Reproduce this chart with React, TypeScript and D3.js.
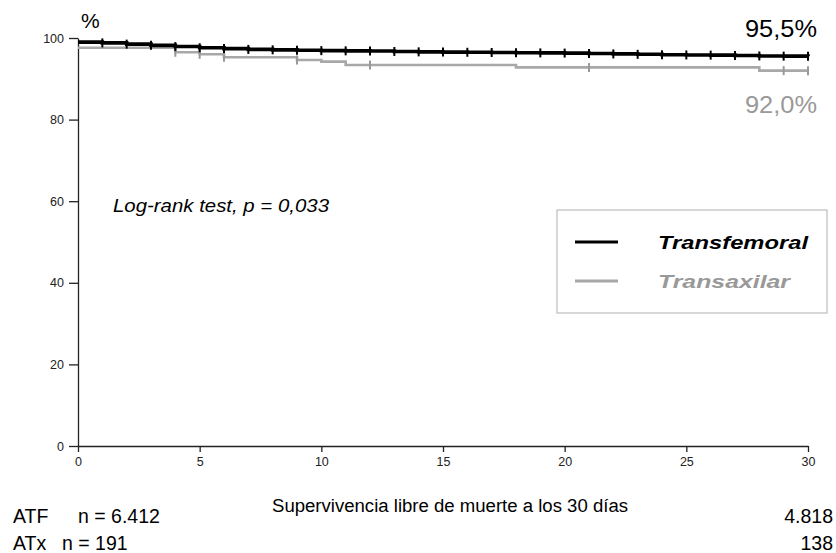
import React, { useEffect, useRef } from "react";
import * as d3 from "d3";

// survival (%), day 0..30
const femoralDays = d3.range(0, 31);
const femoralSurv = [
  99.0, 98.8, 98.5, 98.2, 97.9, 97.6, 97.4, 97.2, 97.1, 97.0, 96.9, 96.85, 96.8, 96.7, 96.6, 96.55,
  96.5, 96.45, 96.4, 96.35, 96.3, 96.2, 96.1, 96.0, 95.9, 95.85, 95.8, 95.7, 95.6, 95.55, 95.5,
];
const femoralCensor = d3.range(1, 31);

const axilarDays = [0, 4, 5, 6, 9, 10, 11, 18, 28, 30];
const axilarSurv = [97.6, 96.5, 96.0, 95.3, 94.6, 94.2, 93.4, 92.8, 92.0, 92.0];
const axilarCensor = [4, 5, 6, 9, 12, 21, 29, 30];

const xTicks = [0, 5, 10, 15, 20, 25, 30];
const yTicks = [0, 20, 40, 60, 80, 100];

const groups = ["Transfemoral", "Transaxilar"];
const groupColors = ["#000000", "#a8a8a8"];
const labelColors = ["#000000", "#999999"];
const legendWidths = [150, 132];

const atRisk = [
  { name: "ATF", start: "n = 6.412", end: "4.818" },
  { name: "ATx", start: "n = 191", end: "138" },
];

const sans = "'Liberation Sans', Arial, Helvetica, sans-serif";

const App = () => {
  const ref = useRef<SVGSVGElement | null>(null);

  useEffect(() => {
    const svg = d3.select(ref.current);
    svg.selectAll("*").remove();

    const x = d3.scaleLinear().domain([0, 30]).range([78, 808]);
    const y = d3.scaleLinear().domain([0, 100]).range([446, 38]);

    // axes
    const xAxis = svg
      .append("g")
      .attr("transform", `translate(0,${y(0)})`)
      .call(d3.axisBottom(x).tickValues(xTicks).tickSize(6).tickSizeOuter(0).tickPadding(5));
    const yAxis = svg
      .append("g")
      .attr("transform", `translate(${x(0)},0)`)
      .call(d3.axisLeft(y).tickValues(yTicks).tickSize(9).tickSizeOuter(0).tickPadding(5));
    [xAxis, yAxis].forEach((a) => {
      a.select(".domain").attr("stroke", "#222").attr("stroke-width", 1.3);
      a.selectAll(".tick line").attr("stroke", "#222").attr("stroke-width", 1.3);
      a.selectAll(".tick text")
        .attr("fill", "#222")
        .style("font-family", sans)
        .style("font-size", "12.5px");
    });

    const line = d3
      .line<[number, number]>()
      .x((d) => x(d[0]))
      .y((d) => y(d[1]))
      .curve(d3.curveStepAfter);

    const stepAt = (days: number[], surv: number[], t: number) => {
      const i = d3.bisectRight(days, t) - 1;
      return surv[Math.max(0, i)];
    };

    const series = [
      { days: femoralDays, surv: femoralSurv, censor: femoralCensor, width: 3.6 },
      { days: axilarDays, surv: axilarSurv, censor: axilarCensor, width: 2.6 },
    ];

    // draw gray first so black sits on top
    [1, 0].forEach((k) => {
      const s = series[k];
      const pts = s.days.map((d, i) => [d, s.surv[i]] as [number, number]);
      svg
        .append("path")
        .attr("d", line(pts))
        .attr("fill", "none")
        .attr("stroke", groupColors[k])
        .attr("stroke-width", s.width);
      svg
        .append("g")
        .selectAll("line")
        .data(s.censor)
        .enter()
        .append("line")
        .attr("x1", (d) => x(d))
        .attr("x2", (d) => x(d))
        .attr("y1", (d) => y(stepAt(s.days, s.surv, d)) - 4.5)
        .attr("y2", (d) => y(stepAt(s.days, s.surv, d)) + 4.5)
        .attr("stroke", k === 0 ? "#000" : "#999")
        .attr("stroke-width", 2);
    });

    svg
      .append("text")
      .attr("x", 81)
      .attr("y", 28)
      .text("%")
      .style("font-family", sans)
      .style("font-size", "21px");

    const endLabel = (txt: string, yy: number, color: string) =>
      svg
        .append("text")
        .attr("x", 745)
        .attr("y", yy)
        .attr("fill", color)
        .attr("textLength", 72)
        .attr("lengthAdjust", "spacingAndGlyphs")
        .text(txt)
        .style("font-family", sans)
        .style("font-size", "23px");
    endLabel("95,5%", 37, labelColors[0]);
    endLabel("92,0%", 113, labelColors[1]);

    svg
      .append("text")
      .attr("x", 113)
      .attr("y", 212)
      .attr("textLength", 216)
      .attr("lengthAdjust", "spacingAndGlyphs")
      .text("Log-rank test, p = 0,033")
      .style("font-family", sans)
      .style("font-style", "italic")
      .style("font-size", "17.5px");

    // legend
    const lg = svg.append("g");
    lg.append("rect")
      .attr("x", 557)
      .attr("y", 210)
      .attr("width", 270)
      .attr("height", 103)
      .attr("fill", "#fff")
      .attr("stroke", "#bdbdbd")
      .attr("stroke-width", 1.2);
    groups.forEach((g, i) => {
      const cy = 242 + i * 39;
      lg.append("line")
        .attr("x1", 575)
        .attr("x2", 618)
        .attr("y1", cy)
        .attr("y2", cy)
        .attr("stroke", groupColors[i])
        .attr("stroke-width", 3);
      lg.append("text")
        .attr("x", 658)
        .attr("y", cy + 7)
        .attr("fill", labelColors[i])
        .attr("textLength", legendWidths[i])
        .attr("lengthAdjust", "spacingAndGlyphs")
        .text(g)
        .style("font-family", sans)
        .style("font-weight", "bold")
        .style("font-style", "italic")
        .style("font-size", "19px");
    });

    svg
      .append("text")
      .attr("x", 272)
      .attr("y", 512)
      .attr("textLength", 356)
      .attr("lengthAdjust", "spacingAndGlyphs")
      .text("Supervivencia libre de muerte a los 30 días")
      .style("font-family", sans)
      .style("font-size", "18px");

    atRisk.forEach((r, i) => {
      const by = 523 + i * 27;
      svg
        .append("text")
        .attr("x", 13)
        .attr("y", by)
        .text(r.name)
        .style("font-family", sans)
        .style("font-size", "19.5px");
      svg
        .append("text")
        .attr("x", i === 0 ? 78 : 62)
        .attr("y", by)
        .text(r.start)
        .style("font-family", sans)
        .style("font-size", "19.5px");
      svg
        .append("text")
        .attr("x", 833)
        .attr("y", by)
        .attr("text-anchor", "end")
        .text(r.end)
        .style("font-family", sans)
        .style("font-size", "19.5px");
    });
  }, []);

  return (
    <div style={{ position: "absolute", left: 0, top: 0, background: "#fff" }}>
      <svg ref={ref} width={836} height={553} />
    </div>
  );
};

export default App;
